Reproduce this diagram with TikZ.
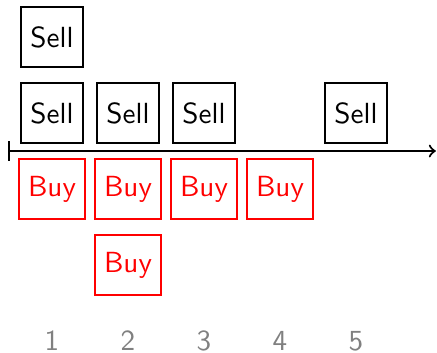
\documentclass[tikz,border=0pt]{standalone}
\usetikzlibrary{arrows}
\begin{document}
\begin{tikzpicture}[
  x=1cm, y=1cm,
  every node/.style={font=\sffamily\fontsize{10.9}{13}\selectfont},
  order/.style={draw, thick, minimum height=0.79cm, inner sep=0.35em},
  sellbox/.style={order, draw=black, text=black},
  buybox/.style={order, draw=red, text=red},
  daylabel/.style={text=gray, inner sep=1pt}
]
\useasboundingbox (-0.684,-2.645) rectangle (5.066,1.987);

% time axis
\coordinate (t0) at (-0.58,0);
\coordinate (t1) at (5.05,0);
\draw[thick, |->] (t0) -- (t1);

% sell orders above the axis
\node[sellbox] (sell1b) at (0,1.5) {Sell};
\node[sellbox] (sell1a) at (0,0.5) {Sell};
\node[sellbox] (sell2a) at (1,0.5) {Sell};
\node[sellbox] (sell3a) at (2,0.5) {Sell};
\node[sellbox] (sell5a) at (4,0.5) {Sell};

% buy orders below the axis
\node[buybox] (buy1a) at (0,-0.5) {Buy};
\node[buybox] (buy2a) at (1,-0.5) {Buy};
\node[buybox] (buy2b) at (1,-1.5) {Buy};
\node[buybox] (buy3a) at (2,-0.5) {Buy};
\node[buybox] (buy4a) at (3,-0.5) {Buy};

% day numbers
\foreach \i in {1,...,5} {
  \node[daylabel] (day\i) at (\i-1,-2.5) {\i};
}
\end{tikzpicture}
\end{document}
